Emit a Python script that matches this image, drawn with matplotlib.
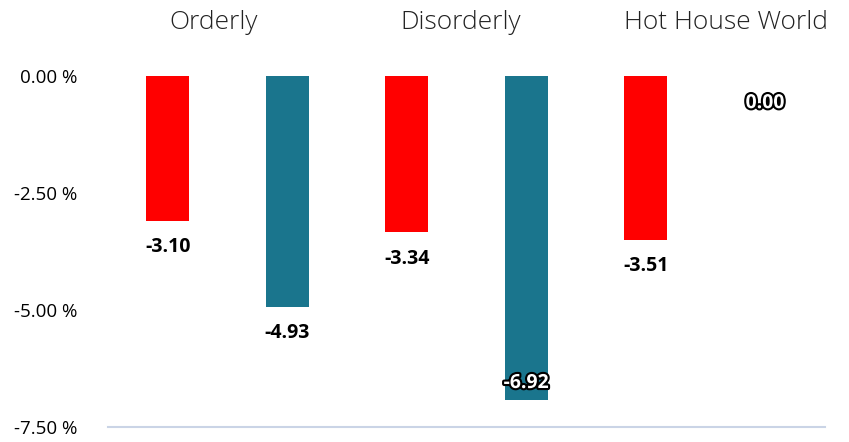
import matplotlib
matplotlib.use("Agg")
import matplotlib.pyplot as plt
import matplotlib.patheffects as pe

groups = ["Orderly", "Disorderly", "Hot House World"]
red_values = [-3.10, -3.34, -3.51]
teal_values = [-4.93, -6.92, 0.00]
yticks = [0.0, -2.5, -5.0, -7.5]
ytick_labels = ["0.00 %", "-2.50 %", "-5.00 %", "-7.50 %"]

RED = "#ff0000"
TEAL = "#1a758d"

fig = plt.figure(figsize=(8.49, 4.42), dpi=100)
ax = fig.add_axes([108/849, 1-427/442, 717/849, (427-76)/442])

xr = [0, 2, 4]
xt = [1, 3, 5]
w = 0.36
ax.bar(xr, red_values, width=w, color=RED)
ax.bar(xt, teal_values, width=w, color=TEAL)

ax.set_xlim(-0.5, 5.5)
ax.set_ylim(-7.5, 0)
ax.set_yticks(yticks)
ax.set_yticklabels(ytick_labels, fontsize=13.5, family="Open Sans")
ax.tick_params(axis="y", length=0, pad=22)
ax.set_xticks([])
for s in ["top", "left", "right"]:
    ax.spines[s].set_visible(False)
ax.spines["bottom"].set_color("#cad4e6")
ax.spines["bottom"].set_linewidth(1.5)

outline = [pe.withStroke(linewidth=3, foreground="black")]
fs = 14
for x, v in zip(xr + xt, red_values + teal_values):
    if v == 0:
        ax.text(x, v - 0.58, f"{v:.2f}", ha="center", va="center", fontsize=fs,
                fontweight="bold", family="Open Sans", color="white", path_effects=outline)
    elif v < -6.5:
        ax.text(x, v + 0.36, f"{v:.2f}", ha="center", va="center", fontsize=fs,
                fontweight="bold", family="Open Sans", color="white", path_effects=outline)
    else:
        ax.text(x, v - 0.56, f"{v:.2f}", ha="center", va="center", fontsize=fs,
                fontweight="bold", family="Open Sans", color="black")

title_x = [0.38, 2.45, 4.67]
for x, g in zip(title_x, groups):
    ax.text(x, 1.15, g, ha="center", va="center", fontsize=19, fontweight="light",
            family="Open Sans", color="#222222", clip_on=False)

fig.savefig("out.png", dpi=100)
